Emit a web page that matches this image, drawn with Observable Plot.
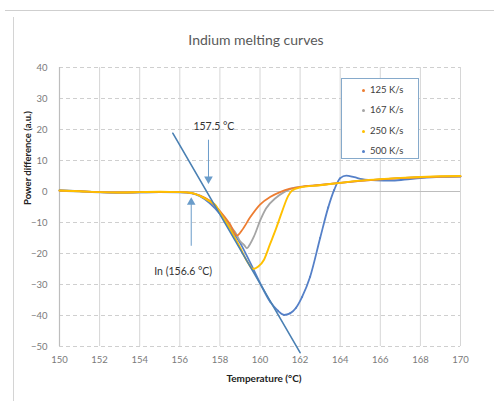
<!DOCTYPE html>
<html>
<head>
<meta charset="utf-8">
<script src="https://cdn.jsdelivr.net/npm/d3@7"></script>
<script src="https://cdn.jsdelivr.net/npm/@observablehq/plot@0.6"></script>
<style>
  html, body { margin: 0; padding: 0; background: #fff; }
  #wrap { position: relative; width: 494px; height: 401px; overflow: hidden; font-family: Lato, "Open Sans", sans-serif; }
  #topline { position: absolute; left: 5px; top: 10px; width: 489px; height: 0; border-top: 1.5px solid #cfcfcf; }
  #leftline { position: absolute; left: 13px; top: 17px; width: 0; height: 384px; border-left: 1.5px solid #d4d4d4; }
  #legend { position: absolute; left: 341px; top: 78px; width: 78px; height: 81px; border: 1.5px solid #86aacb; background: #fff; box-sizing: border-box; }
  .row { position: absolute; left: 0; height: 14px; line-height: 14px; font-size: 9.5px; color: #404040; }
  .mk { position: absolute; left: 20px; top: 5.5px; width: 3px; height: 3px; border-radius: 50%; }
  .lb { position: absolute; left: 28px; white-space: nowrap; }
  svg { position: absolute; left: 0; top: 0; }
</style>
</head>
<body>
<div id="wrap">
  <div id="topline"></div>
  <div id="leftline"></div>
</div>
<script>
// ---- data ----
const xTicks = [150, 152, 154, 156, 158, 160, 162, 164, 166, 168, 170];
const yTicks = [-50, -40, -30, -20, -10, 0, 10, 20, 30, 40];

const seriesNames = ["125 K/s", "167 K/s", "250 K/s", "500 K/s"];
const seriesColors = ["#ED7D31", "#A5A5A5", "#FFC000", "#5580C8"];

const t125 = [150, 151, 152, 153, 154, 155, 156, 156.6, 157, 157.5, 158, 158.5, 158.85, 159.1, 159.5, 160, 160.5, 161, 161.5, 162, 163, 164, 165, 166, 167, 168, 169, 170];
const p125 = [0.3, 0.1, -0.2, -0.3, -0.2, -0.1, -0.2, -0.5, -1.3, -3, -6.3, -10.5, -14.2, -12.5, -8.4, -4.2, -1.8, -0.2, 0.9, 1.5, 2.1, 2.8, 3.4, 3.9, 4.3, 4.6, 4.8, 4.9];

const t167 = [150, 151, 152, 153, 154, 155, 156, 156.6, 157, 157.5, 158, 158.5, 158.8, 159.0, 159.2, 159.35, 159.5, 159.7, 160, 160.3, 160.8, 161.2, 161.6, 162, 163, 164, 165, 166, 167, 168, 169, 170];
const p167 = [0.2, 0, -0.3, -0.4, -0.3, -0.2, -0.2, -0.5, -1.3, -3.2, -6.5, -11, -13.5, -16, -17.2, -18.3, -17, -14.5, -9.5, -5.5, -2, -0.2, 1, 1.5, 2.1, 2.8, 3.4, 3.9, 4.3, 4.6, 4.8, 4.9];

const t250 = [150, 151, 152, 153, 154, 155, 156, 156.6, 157, 157.5, 157.8, 158, 158.5, 159, 159.4, 159.65, 159.9, 160.2, 160.5, 160.8, 161.1, 161.4, 161.6, 162, 163, 164, 165, 166, 167, 168, 169, 170];
const p250 = [0.3, 0.1, -0.2, -0.3, -0.2, -0.1, -0.2, -0.5, -1.4, -3.2, -4.5, -6.8, -12, -18, -23, -25, -24.3, -22, -17, -12, -6.5, -1.5, 0.3, 1.3, 2, 2.8, 3.5, 4, 4.4, 4.7, 4.9, 5];

const t500 = [150, 151, 152, 153, 154, 155, 156, 156.6, 157, 157.5, 158, 158.5, 159, 159.5, 160, 160.5, 160.9, 161.2, 161.5, 161.8, 162.1, 162.5, 163, 163.4, 163.7, 164, 164.3, 164.7, 165.1, 165.8, 166.5, 167.2, 168, 169, 170];
const p500 = [0.4, 0.1, -0.2, -0.4, -0.3, -0.2, -0.3, -0.6, -1.5, -3.8, -7.2, -11.8, -16.5, -22.8, -29.5, -35.5, -38.5, -39.8, -39.3, -37.5, -34, -27.5, -15, -5.2, 0.5, 4.3, 5.1, 4.6, 4, 3.6, 3.5, 3.8, 4.3, 4.7, 4.8];

// annotation values
const tangentT = [155.65, 162.0];
const tangentP = [18.8, -52];
const onsetLabel = "157.5 °C";
const onsetArrow = { x: 157.43, yFrom: 16.7, yTo: 4.0 };
const inLabel = "In (156.6 °C)";
const inArrow = { x: 156.57, yFrom: -17.5, yTo: -3.5 };

// ---- build tables ----
const tables = [[t125, p125], [t167, p167], [t250, p250], [t500, p500]].map(([t, p], i) =>
  t.map((x, j) => ({ x, y: p[j], s: seriesNames[i] })));
const tangent = tangentT.map((x, j) => ({ x, y: tangentP[j] }));

const font = "Lato, 'Open Sans', sans-serif";

const chart = Plot.plot({
  width: 494,
  height: 401,
  marginTop: 67,
  marginLeft: 59,
  marginRight: 34,
  marginBottom: 55,
  style: { fontFamily: font, background: "transparent", overflow: "visible" },
  x: { domain: [150, 170], ticks: xTicks, label: null },
  y: { domain: [-50, 40], ticks: yTicks, label: null },
  marks: [
    Plot.gridX(xTicks, { stroke: "#d6d6d6", strokeOpacity: 1, strokeWidth: 1 }),
    Plot.gridY(yTicks.filter(d => d !== 0), { stroke: "#cfcfcf", strokeOpacity: 1, strokeDasharray: "4,3", strokeWidth: 1 }),
    Plot.ruleY([0], { stroke: "#bdbdbd", strokeWidth: 1.2 }),
    Plot.ruleX([150], { stroke: "#bdbdbd", strokeWidth: 1.2 }),
    Plot.axisX({ ticks: xTicks, tickSize: 0, tickPadding: 10, fontSize: 9.5, color: "#7a7a7a", label: null }),
    Plot.axisY({ ticks: yTicks, tickSize: 0, tickPadding: 12, fontSize: 9.5, color: "#7a7a7a", label: null }),
    // curves: 500 drawn first (beneath)
    Plot.line(tables[3], { x: "x", y: "y", stroke: seriesColors[3], strokeWidth: 1.8, curve: "monotone-x" }),
    Plot.dot(tables[3].filter(d => d.x > 160 && d.x < 164.2), { x: "x", y: "y", r: 1, fill: seriesColors[3] }),
    Plot.line(tables[1], { x: "x", y: "y", stroke: seriesColors[1], strokeWidth: 1.8, curve: "monotone-x" }),
    Plot.line(tables[0], { x: "x", y: "y", stroke: seriesColors[0], strokeWidth: 1.8, curve: "monotone-x" }),
    Plot.line(tables[2], { x: "x", y: "y", stroke: seriesColors[2], strokeWidth: 1.9, curve: "monotone-x" }),
    // tangent
    Plot.line(tangent, { x: "x", y: "y", stroke: "#4a80b3", strokeWidth: 1.6, clip: false }),
    // arrows
    Plot.link([onsetArrow], { x1: "x", x2: "x", y1: "yFrom", y2: "yTo", stroke: "#6a9cca", strokeWidth: 1 }),
    Plot.dot([onsetArrow], { x: "x", y: "yTo", symbol: "triangle", r: 3.2, fill: "#6a9cca", stroke: null, rotate: 180 }),
    Plot.link([inArrow], { x1: "x", x2: "x", y1: "yFrom", y2: "yTo", stroke: "#6a9cca", strokeWidth: 1 }),
    Plot.dot([inArrow], { x: "x", y: "yTo", symbol: "triangle", r: 3.2, fill: "#6a9cca", stroke: null }),
    Plot.text([onsetLabel], { x: 157.7, y: 20.9, text: d => d, fontSize: 10.5, fill: "#333" }),
    Plot.text([inLabel], { x: 156.17, y: -25.9, text: d => d, fontSize: 10.5, fill: "#333" }),
    // titles
    Plot.text(["Indium melting curves"], { frameAnchor: "top", dy: -32, dx: -4, text: d => d, fontSize: 14, fill: "#595959" }),
    Plot.text(["Temperature (°C)"], { frameAnchor: "bottom", dy: 35, dx: 4, text: d => d, fontSize: 10, fontWeight: "bold", fill: "#222" }),
    Plot.text(["Power difference (a.u.)"], { frameAnchor: "left", dx: -32, dy: -2, rotate: -90, text: d => d, fontSize: 9.5, fontWeight: "bold", fill: "#222" })
  ]
});

const wrap = document.getElementById("wrap");
wrap.appendChild(chart);

// legend
const legend = document.createElement("div");
legend.id = "legend";
const rowTops = [4, 24, 45, 65];
seriesNames.forEach((name, i) => {
  const row = document.createElement("div");
  row.className = "row";
  row.style.top = rowTops[i] + "px";
  const mk = document.createElement("div");
  mk.className = "mk";
  mk.style.background = seriesColors[i];
  const lb = document.createElement("div");
  lb.className = "lb";
  lb.textContent = name;
  row.appendChild(mk);
  row.appendChild(lb);
  legend.appendChild(row);
});
wrap.appendChild(legend);
</script>
</body>
</html>
